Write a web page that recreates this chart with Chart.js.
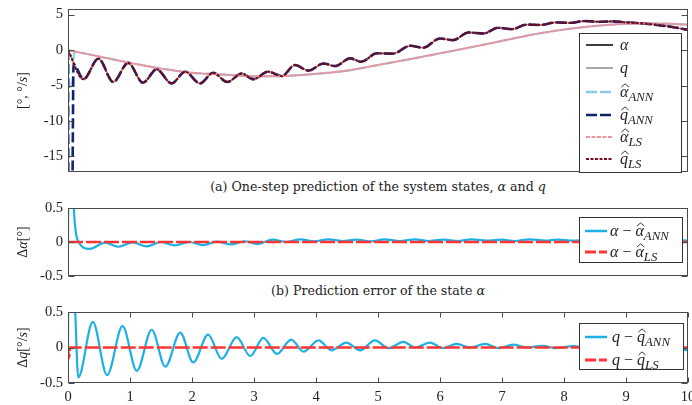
<!DOCTYPE html>
<html>
<head>
<meta charset="utf-8">
<script src="https://cdn.jsdelivr.net/npm/chart.js@4.4.1/dist/chart.umd.min.js"></script>
<style>
  html, body { margin: 0; padding: 0; background: #fff; }
  body { width: 692px; height: 405px; position: relative; overflow: hidden; font-family: "DejaVu Serif", serif; }
  .panel { position: absolute; left: 0; width: 692px; }
  .cap { position: absolute; left: 68px; width: 620px; text-align: center; font-size: 12.6px; line-height: 17px; color: #222; white-space: nowrap; }
</style>
</head>
<body>
<div class="panel" style="top:0;height:178px"><canvas id="c1"></canvas></div>
<div class="cap" style="top:178px">(a) One-step prediction of the system states, <i>α</i> and <i>q</i></div>
<div class="panel" style="top:198px;height:84px"><canvas id="c2"></canvas></div>
<div class="cap" style="top:282px">(b) Prediction error of the state <i>α</i></div>
<div class="panel" style="top:300px;height:105px"><canvas id="c3"></canvas></div>
<script>
// ---- states: time [s] and value ----
const alphaT = [0, 0.5, 1, 1.5, 2, 2.5, 3, 3.5, 4, 4.5, 5, 5.5, 6, 6.5, 7, 7.5, 8, 8.5, 9, 9.5, 10];
const alphaV = [0, -0.9, -1.8, -2.6, -3.2, -3.45, -3.7, -3.65, -3.35, -2.9, -2.1, -1.3, -0.45, 0.4, 1.3, 2.2, 2.9, 3.4, 3.7, 3.75, 3.6];

const qT = [0, 0.25, 0.49, 0.73, 0.97, 1.21, 1.43, 1.67, 1.89, 2.13, 2.34, 2.57, 2.8, 2.99, 3.23, 3.45, 3.66, 3.88, 4.12, 4.31, 4.55, 4.73, 4.98, 5.24, 5.52, 5.73, 6.0, 6.21, 6.46, 6.7, 6.94, 7.16, 7.4, 7.62, 7.87, 8.1, 8.33, 8.56, 8.8, 9.02, 9.25, 9.5, 9.75, 10];
const qV = [0, -4.1, -1.2, -4.5, -1.8, -4.6, -2.7, -4.7, -3.05, -4.7, -3.2, -4.5, -3.3, -4.1, -3.05, -3.66, -2.1, -2.9, -1.9, -2.25, -1.17, -1.65, -0.45, -0.5, 0.61, 0.33, 1.64, 1.41, 2.49, 2.35, 3.15, 2.96, 3.6, 3.55, 3.9, 3.85, 4.1, 4.0, 4.05, 3.9, 3.78, 3.55, 3.25, 2.85];

// ANN start-up transient of the one-step predictions
const alphaAnnHeadT = [0, 0.02, 0.07, 0.1];
const alphaAnnHeadV = [0, -5.5, -4.5, -0.3];
const qAnnHeadT = [0, 0.01, 0.06, 0.09];
const qAnnHeadV = [0, -30, -30, -2.0];

// ---- prediction errors ----
const dAlphaAnnT = [0, 0.005, 0.08, 0.1, 0.13, 0.17, 0.35, 0.6, 0.81, 1.05, 1.27, 1.5, 1.72, 1.95, 2.18, 2.4, 2.62, 2.85, 3.06, 3.3, 3.52, 3.75, 3.97, 4.2, 4.42, 4.65, 4.9, 5.1, 5.35, 5.6, 5.8, 6.05, 6.3, 6.5, 6.75, 7.0, 7.2, 7.45, 7.7, 7.9, 8.15, 8.4, 8.6, 8.85, 9.1, 9.3, 9.55, 9.8, 10];
const dAlphaAnnV = [0, 0.9, 0.9, 0.4, 0.12, 0, -0.1, -0.01, -0.07, -0.005, -0.065, 0, -0.05, 0, -0.045, 0.005, -0.035, 0.01, -0.03, 0.035, 0.0, 0.04, 0.01, 0.04, 0.015, 0.035, 0.01, 0.04, 0.015, 0.04, 0.015, 0.035, 0.015, 0.04, 0.02, 0.035, 0.015, 0.04, 0.02, 0.035, 0.02, 0.035, 0.02, 0.03, 0.02, 0.03, 0.015, 0.03, 0.02];
const dAlphaLsT = [0, 10];
const dAlphaLsV = [0, 0];

const dqAnnT = [0, 0.005, 0.09, 0.166, 0.4, 0.63, 0.88, 1.11, 1.35, 1.57, 1.81, 2.02, 2.26, 2.48, 2.72, 2.94, 3.15, 3.37, 3.6, 3.8, 4.04, 4.25, 4.49, 4.71, 4.95, 5.17, 5.41, 5.6, 5.84, 6.05, 6.27, 6.48, 6.73, 6.94, 7.18, 7.4, 7.66, 7.87, 8.15, 8.4, 8.65, 8.9, 9.15, 9.4, 9.65, 10];
const dqAnnV = [0, 0.9, 0.9, -0.42, 0.36, -0.39, 0.3, -0.33, 0.25, -0.27, 0.21, -0.21, 0.18, -0.16, 0.145, -0.12, 0.135, -0.09, 0.11, -0.06, 0.1, -0.04, 0.07, -0.04, 0.1, -0.01, 0.08, 0, 0.07, -0.01, 0.05, 0, 0.05, -0.01, 0.04, 0, 0.025, -0.01, 0.02, -0.01, 0.02, -0.02, 0.01, -0.03, 0, -0.04];
const dqLsT = [0, 0.015, 0.035, 10];
const dqLsV = [0, -0.15, 0, 0];

// ---- tick values ----
const xTicks = [0, 1, 2, 3, 4, 5, 6, 7, 8, 9, 10];
const yTicksStates = [-15, -10, -5, 0, 5];
const yTicksErrors = [-0.5, 0, 0.5];

// ---- helpers ----
const FONT = '"Liberation Serif", "DejaVu Serif", serif';
const FRAME = '#4a4a4a';
const pts = (T, V) => T.map((t, i) => ({ x: t, y: V[i] }));
const withHead = (hT, hV, T, V) => pts(hT, hV).concat(pts(T, V).filter(p => p.x > hT[hT.length - 1]));

function series(data, color, width, dash) {
  return {
    data, borderColor: color, borderWidth: width, borderDash: dash || [],
    pointRadius: 0, cubicInterpolationMode: 'monotone', fill: false, clip: 0,
    borderCapStyle: 'butt', borderJoinStyle: 'round'
  };
}

// draws a run of text pieces (italic, sub-scripts, wide hats); returns width
function drawRuns(ctx, runs, x, yb, size, color, measureOnly) {
  let cx = x;
  runs.forEach(r => {
    const fs = r.sub ? size * 0.8 : size;
    ctx.font = (r.it ? 'italic ' : '') + fs + 'px ' + FONT;
    const w = ctx.measureText(r.t).width;
    const y = r.sub ? yb + size * 0.28 : yb;
    if (!measureOnly) {
      ctx.fillStyle = color;
      ctx.fillText(r.t, cx, y);
      if (r.hat) {
        const hb = y - size * 0.62, hx0 = cx + w * 0.05 + 1, hx1 = cx + w * 0.95 + 1;
        ctx.beginPath();
        ctx.moveTo(hx0, hb);
        ctx.lineTo((hx0 + hx1) / 2, hb - size * 0.2);
        ctx.lineTo(hx1, hb);
        ctx.strokeStyle = color; ctx.lineWidth = 0.9; ctx.setLineDash([]);
        ctx.stroke();
      }
    }
    cx += w + (r.gap || 0);
  });
  return cx - x;
}

const deco = {
  id: 'deco',
  afterDatasetsDraw(chart, args, o) {
    const { ctx, chartArea: a, scales } = chart;
    ctx.save();
    ctx.setLineDash([]);
    ctx.strokeStyle = FRAME; ctx.lineWidth = 1;
    const L = Math.round(a.left) + 0.5, R = Math.round(a.right) - 0.5;
    const T = Math.round(a.top) + 0.5, B = Math.round(a.bottom) - 0.5;
    ctx.strokeRect(L, T, R - L, B - T);
    ctx.beginPath();
    scales.y.ticks.forEach(t => {
      const p = Math.round(scales.y.getPixelForValue(t.value)) + 0.5;
      ctx.moveTo(L, p); ctx.lineTo(L + 6, p);
      ctx.moveTo(R, p); ctx.lineTo(R - 6, p);
    });
    if (o.xTicks) {
      scales.x.ticks.forEach(t => {
        const p = Math.round(scales.x.getPixelForValue(t.value)) + 0.5;
        ctx.moveTo(p, B); ctx.lineTo(p, B - 5);
        ctx.moveTo(p, T); ctx.lineTo(p, T + 5);
      });
    }
    ctx.stroke();

    // legend box
    const lg = o.legend;
    const bx0 = Math.round(a.right + lg.left), bx1 = Math.round(a.right + lg.right);
    const by0 = Math.round(a.top + lg.top);
    const by1 = lg.toBottom ? Math.round(a.bottom) : by0 + lg.height;
    ctx.fillStyle = '#fff';
    ctx.fillRect(bx0, by0, bx1 - bx0, by1 - by0);
    ctx.strokeStyle = '#333'; ctx.lineWidth = 1;
    ctx.strokeRect(bx0 + 0.5, by0 + 0.5, bx1 - bx0, by1 - by0);
    ctx.textBaseline = 'alphabetic'; ctx.textAlign = 'left';
    lg.items.forEach(it => {
      const y = by0 + it.dy;
      ctx.setLineDash(it.dash || []);
      ctx.strokeStyle = it.color; ctx.lineWidth = it.width;
      ctx.beginPath(); ctx.moveTo(bx0 + lg.s0, y); ctx.lineTo(bx0 + lg.s1, y); ctx.stroke();
      ctx.setLineDash([]);
      drawRuns(ctx, it.label, bx0 + lg.tx, y + 5, 16, '#222');
    });
    ctx.restore();
  },
  afterDraw(chart, args, o) {
    const { ctx, chartArea: a } = chart;
    ctx.save();
    ctx.textBaseline = 'alphabetic'; ctx.textAlign = 'left';
    const size = 14;
    const w = drawRuns(ctx, o.title, 0, 0, size, '#222', true);
    ctx.translate(22, (a.top + a.bottom) / 2);
    ctx.rotate(-Math.PI / 2);
    drawRuns(ctx, o.title, -w / 2, size * 0.33, size, '#222');
    ctx.restore();
  }
};

function makeChart(id, cfg) {
  const datasets = cfg.datasets.map((d, i, arr) => Object.assign(d, { order: arr.length - 1 - i }));
  const tickFont = { family: FONT, size: 14.5 };
  return new Chart(document.getElementById(id), {
    type: 'line',
    data: { datasets },
    options: {
      responsive: true, maintainAspectRatio: false, animation: false, events: [],
      layout: { padding: { top: cfg.padTop, right: 4, bottom: cfg.padBottom, left: 0 } },
      plugins: {
        legend: { display: false }, tooltip: { enabled: false },
        deco: { legend: cfg.legend, title: cfg.title, xTicks: cfg.showX }
      },
      scales: {
        x: {
          type: 'linear', min: 0, max: 10, display: cfg.showX,
          grid: { display: false, drawTicks: false }, border: { display: false },
          ticks: { font: tickFont, color: '#222', padding: 5, maxRotation: 0 },
          afterBuildTicks: s => { s.ticks = xTicks.map(v => ({ value: v })); },
          afterFit: s => {
            if (!cfg.showX) return;
            s.height = 22; s.paddingLeft = 0; s.paddingRight = 0;
          }
        },
        y: {
          type: 'linear', min: cfg.yMin, max: cfg.yMax,
          grid: { display: false, drawTicks: false }, border: { display: false },
          ticks: { font: tickFont, color: '#222', padding: 5 },
          afterBuildTicks: s => { s.ticks = cfg.yTicks.map(v => ({ value: v })); },
          afterFit: s => { s.width = 68; s.paddingTop = 0; s.paddingBottom = 0; }
        }
      }
    },
    plugins: [deco]
  });
}

// colours
const C_ALPHA = '#000000', C_Q = '#8a8a8a';
const C_A_ANN = '#8ccbea', C_Q_ANN = '#0f2470';
const C_A_LS = '#f0949c', C_Q_LS = '#7d0a1c';
const C_ERR_ANN = '#1eb0e2', C_ERR_LS = '#ff3535';

const hatA = [{ t: 'α', it: true, hat: true }];
const hatQ = [{ t: 'q', it: true, hat: true }];

// (a) states and their one-step predictions
makeChart('c1', {
  padTop: 9, padBottom: 6, showX: false,
  yMin: -17.2, yMax: 5.8, yTicks: yTicksStates,
  title: [{ t: '[°, °/' }, { t: 's', it: true }, { t: ']' }],
  datasets: [
    series(pts(alphaT, alphaV), C_ALPHA, 0.8),
    series(pts(qT, qV), C_Q, 1.2),
    series(withHead(alphaAnnHeadT, alphaAnnHeadV, alphaT, alphaV), C_A_ANN, 2.2, [10, 4]),
    series(withHead(qAnnHeadT, qAnnHeadV, qT, qV), C_Q_ANN, 2.6, [10, 4]),
    series(pts(alphaT, alphaV), C_A_LS, 2, [6, 1]),
    series(pts(qT, qV), C_Q_LS, 2.2, [3, 1.5])
  ],
  legend: {
    left: -109, right: -7, top: 24, toBottom: true, s0: 7, s1: 34, tx: 41,
    items: [
      { dy: 12, color: C_ALPHA, width: 1.5, label: [{ t: 'α', it: true }] },
      { dy: 35, color: C_Q, width: 1.5, label: [{ t: 'q', it: true }] },
      { dy: 59, color: C_A_ANN, width: 2.5, dash: [11, 3], label: hatA.concat([{ t: 'ANN', it: true, sub: true }]) },
      { dy: 82, color: C_Q_ANN, width: 2.5, dash: [11, 3], label: hatQ.concat([{ t: 'ANN', it: true, sub: true }]) },
      { dy: 104, color: C_A_LS, width: 1.8, dash: [4, 1.5], label: hatA.concat([{ t: 'LS', it: true, sub: true }]) },
      { dy: 126, color: C_Q_LS, width: 2.2, dash: [3, 1.5], label: hatQ.concat([{ t: 'LS', it: true, sub: true }]) }
    ]
  }
});

// (b) error of alpha
makeChart('c2', {
  padTop: 10, padBottom: 6, showX: false,
  yMin: -0.5, yMax: 0.5, yTicks: yTicksErrors,
  title: [{ t: 'Δ' }, { t: 'α', it: true }, { t: '[°]' }],
  datasets: [
    series(pts(dAlphaAnnT, dAlphaAnnV), C_ERR_ANN, 2.2),
    series(pts(dAlphaLsT, dAlphaLsV), C_ERR_LS, 2.6, [15, 3])
  ],
  legend: {
    left: -109, right: -6, top: 9, height: 45, s0: 6, s1: 28, tx: 31,
    items: [
      { dy: 14, color: C_ERR_ANN, width: 2.5, label: [{ t: 'α', it: true }, { t: ' − ' }, { t: 'α', it: true, hat: true }, { t: 'ANN', it: true, sub: true }] },
      { dy: 35, color: C_ERR_LS, width: 2.8, dash: [11, 3], label: [{ t: 'α', it: true }, { t: ' − ' }, { t: 'α', it: true, hat: true }, { t: 'LS', it: true, sub: true }] }
    ]
  }
});

// (c) error of q
makeChart('c3', {
  padTop: 12, padBottom: 0, showX: true,
  yMin: -0.5, yMax: 0.5, yTicks: yTicksErrors,
  title: [{ t: 'Δ' }, { t: 'q', it: true }, { t: '[°/' }, { t: 's', it: true }, { t: ']' }],
  datasets: [
    series(pts(dqAnnT, dqAnnV), C_ERR_ANN, 2.2),
    series(pts(dqLsT, dqLsV), C_ERR_LS, 2.6, [15, 3])
  ],
  legend: {
    left: -109, right: -5, top: 11, height: 46, s0: 6, s1: 28, tx: 33,
    items: [
      { dy: 14, color: C_ERR_ANN, width: 2.5, label: [{ t: 'q', it: true }, { t: ' − ' }, { t: 'q', it: true, hat: true }, { t: 'ANN', it: true, sub: true }] },
      { dy: 37, color: C_ERR_LS, width: 2.8, dash: [11, 3], label: [{ t: 'q', it: true }, { t: ' − ' }, { t: 'q', it: true, hat: true }, { t: 'LS', it: true, sub: true }] }
    ]
  }
});
</script>
</body>
</html>
